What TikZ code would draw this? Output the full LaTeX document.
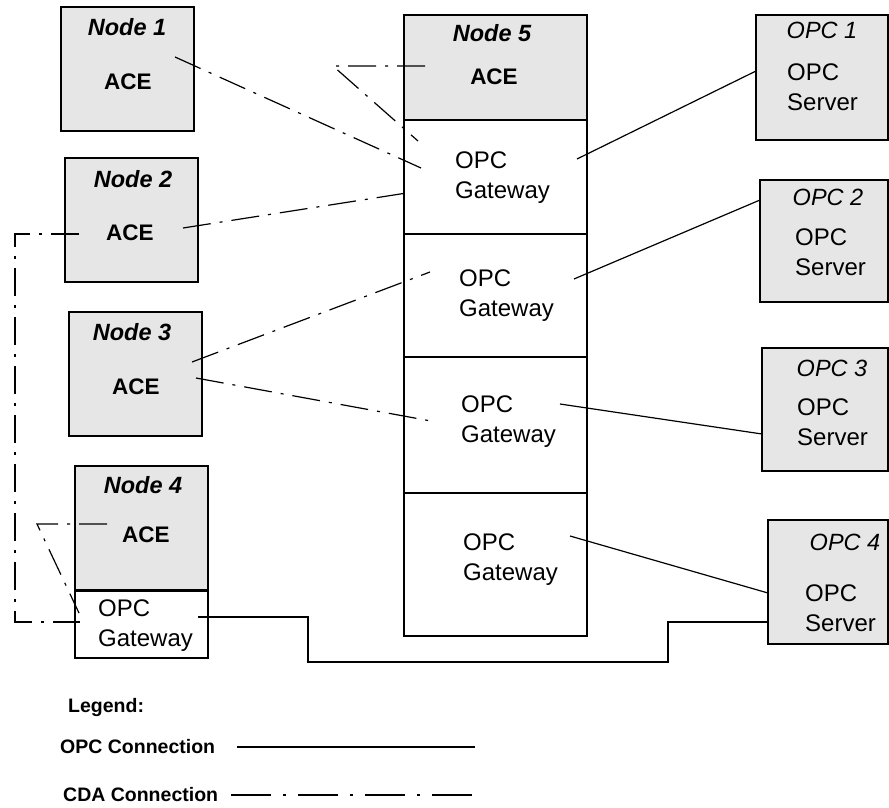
\documentclass[tikz,border=0pt]{standalone}
\usepackage{fontspec}
\setmainfont{Liberation Sans}
\definecolor{boxgray}{RGB}{230,230,230}
\begin{document}
\begin{tikzpicture}[x=1pt,y=-1pt,
  box/.style={draw, line width=1.6pt, anchor=north west, inner sep=0pt, outer sep=0pt},
  graybox/.style={box, fill=boxgray},
  whitebox/.style={box, fill=white},
  ttl/.style={font=\fontsize{23.5}{27}\selectfont\bfseries\itshape, inner sep=0pt},
  opcttl/.style={font=\fontsize{23.5}{27}\selectfont\itshape, inner sep=0pt},
  ace/.style={font=\fontsize{22.5}{26}\selectfont\bfseries, inner sep=0pt},
  two/.style={font=\fontsize{24}{30}\selectfont, align=left, anchor=west, inner sep=0pt},
  leg/.style={font=\fontsize{19.5}{24}\selectfont\bfseries, inner sep=0pt, anchor=west},
  opc/.style={line width=1.2pt},
  cda/.style={line width=1.2pt, dash pattern=on 28pt off 9pt on 3pt off 9pt},
  cdaleg/.style={line width=1.2pt, dash pattern=on 40pt off 12pt on 3pt off 12pt}]
\useasboundingbox (0,0) rectangle (889,808);

% Left nodes
\node[graybox, minimum width=133pt, minimum height=124pt] (n1) at (61,7) {};
\node[graybox, minimum width=133pt, minimum height=124pt] (n2) at (65,158) {};
\node[graybox, minimum width=133pt, minimum height=124pt] (n3) at (69,312) {};
\node[graybox, minimum width=133pt, minimum height=124pt] (n4) at (75,466) {};
\node[whitebox, minimum width=133pt, minimum height=68pt] (n4gw) at (75,590) {};
\draw[line width=3pt] (n4.south west) -- (n4.south east);

\node[ttl] (n1t) at (127,27) {Node 1};
\node[ace] (n1a) at (128,82) {ACE};
\node[ttl] (n2t) at (133,179) {Node 2};
\node[ace] (n2a) at (130,233) {ACE};
\node[ttl] (n3t) at (132,332) {Node 3};
\node[ace] (n3a) at (136,387) {ACE};
\node[ttl] (n4t) at (143,485) {Node 4};
\node[ace] (n4a) at (146,535) {ACE};
\node[two] (n4g) at (98,626) {OPC\\Gateway};

% Node 5 column
\node[graybox, minimum width=183pt, minimum height=105pt] (n5) at (404,15) {};
\node[whitebox, minimum width=183pt, minimum height=114pt] (g1) at (404,120) {};
\node[whitebox, minimum width=183pt, minimum height=123pt] (g2) at (404,234) {};
\node[whitebox, minimum width=183pt, minimum height=136pt] (g3) at (404,357) {};
\node[whitebox, minimum width=183pt, minimum height=143pt] (g4) at (404,493) {};
\node[ttl] (n5t) at (492,33) {Node 5};
\node[ace] (n5a) at (494,77) {ACE};
\node[two] (g1t) at (455,178) {OPC\\Gateway};
\node[two] (g2t) at (459,296) {OPC\\Gateway};
\node[two] (g3t) at (461,422) {OPC\\Gateway};
\node[two] (g4t) at (463,560) {OPC\\Gateway};

% OPC servers
\node[graybox, minimum width=132pt, minimum height=125pt] (s1) at (756,15) {};
\node[graybox, minimum width=128pt, minimum height=122pt] (s2) at (760,180) {};
\node[graybox, minimum width=126pt, minimum height=123pt] (s3) at (762,348) {};
\node[graybox, minimum width=120pt, minimum height=124pt] (s4) at (768,520) {};
\node[opcttl] (s1t) at (822,30) {OPC 1};
\node[two] (s1s) at (787,87) {OPC\\Server};
\node[opcttl] (s2t) at (828,197) {OPC 2};
\node[two] (s2s) at (795,252) {OPC\\Server};
\node[opcttl] (s3t) at (832,368) {OPC 3};
\node[two] (s3s) at (797,422) {OPC\\Server};
\node[opcttl] (s4t) at (845,542) {OPC 4};
\node[two] (s4s) at (805,608) {OPC\\Server};

% connector end points
\coordinate (g1r) at (577,159);
\coordinate (s1l) at (756,71);
\coordinate (g2r) at (574,279);
\coordinate (s2l) at (760,200);
\coordinate (g3r) at (560,404);
\coordinate (s3l) at (762,434);
\coordinate (g4r) at (570,536);
\coordinate (s4l) at (768,593);
\coordinate (n4gr) at (198,617);
\coordinate (s4b) at (768,622);

\coordinate (n1e) at (175,57);
\coordinate (g1a) at (421,168);
\coordinate (n5e) at (425,66);
\coordinate (n5k) at (333,66);
\coordinate (g1b) at (418,141);
\coordinate (n2e) at (183,228);
\coordinate (g1c) at (413,192);
\coordinate (n2w) at (79,234);
\coordinate (lk1) at (15,234);
\coordinate (lk2) at (15,622);
\coordinate (n4gl) at (80,622);
\coordinate (n4e) at (107,524);
\coordinate (n4k) at (37,524);
\coordinate (n4gl2) at (79,613);
\coordinate (n3e1) at (192,362);
\coordinate (g2a) at (430,272);
\coordinate (n3e2) at (196,378);
\coordinate (g3a) at (431,421);

% OPC connections
\draw[opc] (g1r) -- (s1l);
\draw[opc] (g2r) -- (s2l);
\draw[opc] (g3r) -- (s3l);
\draw[opc] (g4r) -- (s4l);
\draw[opc] (n4gr) -- (308,617) -- (308,662) -- (668,662) -- (668,622) -- (s4b);

% CDA connections
\draw[cda] (n1e) -- (g1a);
\draw[cda] (n5e) -- (n5k) -- (g1b);
\draw[cda] (n2e) -- (g1c);
\draw[cda] (n2w) -- (lk1) -- (lk2) -- (n4gl);
\draw[cda] (n4e) -- (n4k) -- (n4gl2);
\draw[cda] (n3e1) -- (g2a);
\draw[cda] (n3e2) -- (g3a);

% Legend
\node[leg] (lgt) at (68,707) {Legend:};
\node[leg] (lopc) at (60,747) {OPC Connection};
\node[leg] (lcda) at (63,795) {CDA Connection};
\coordinate (lo1) at (237,747);
\coordinate (lo2) at (475,747);
\coordinate (lc1) at (231,795);
\coordinate (lc2) at (475,795);
\draw[opc] (lo1) -- (lo2);
\draw[cdaleg] (lc1) -- (lc2);
\end{tikzpicture}
\end{document}
